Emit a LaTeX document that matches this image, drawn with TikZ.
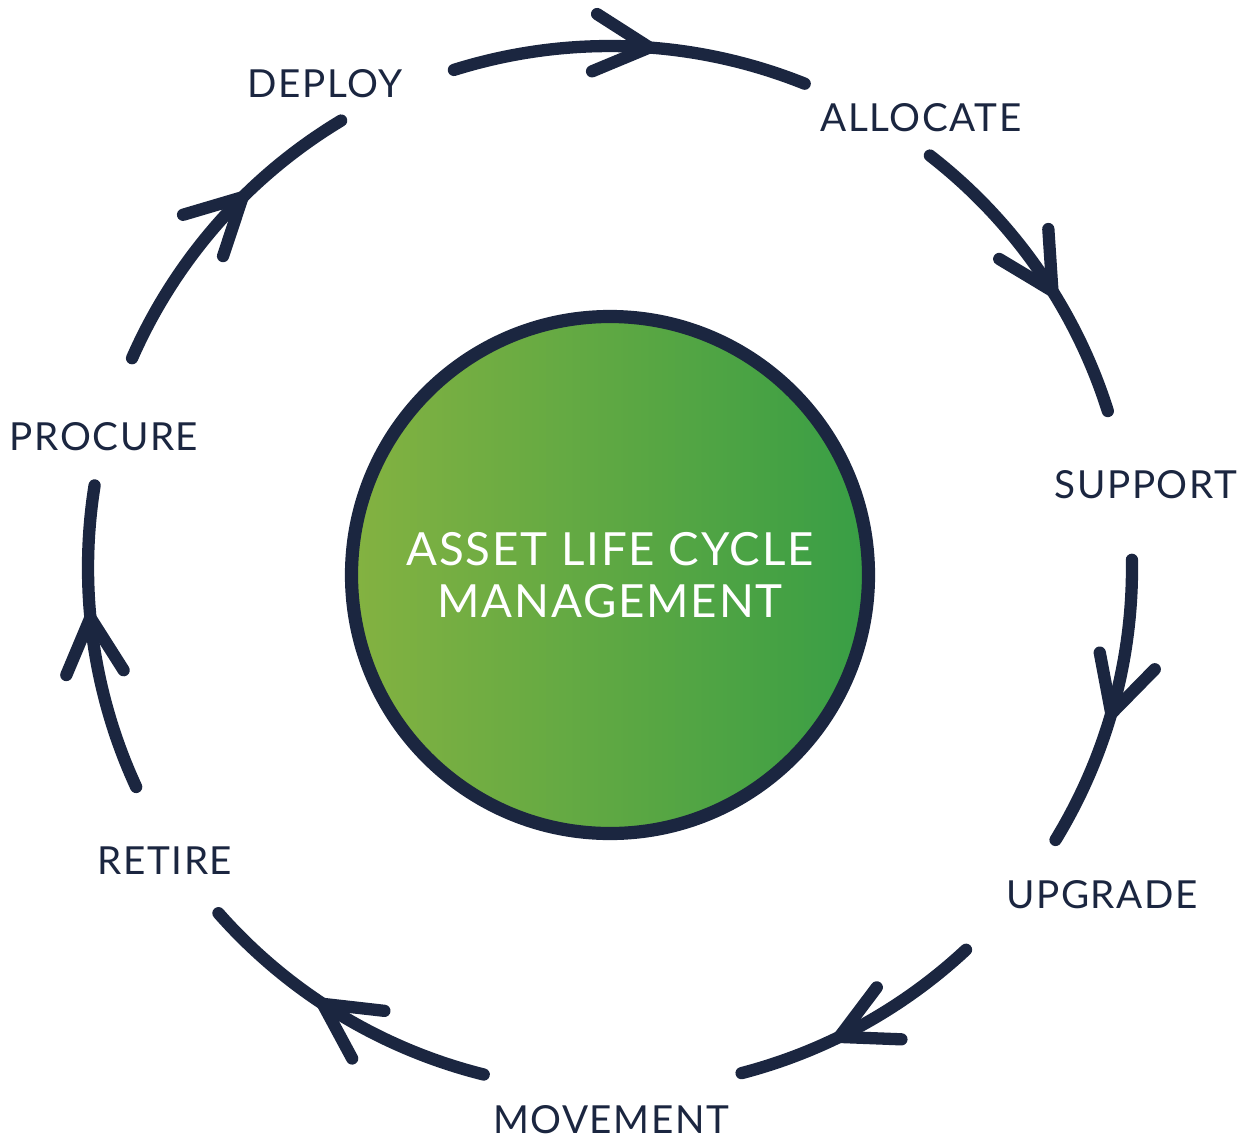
\documentclass[tikz,border=0pt]{standalone}
\usepackage{fontspec}
\setmainfont{Lato}[LetterSpace=4]
\usetikzlibrary{arrows.meta,decorations.markings}
\definecolor{navy}{HTML}{1B2640}
\definecolor{leafgreen}{HTML}{84B241}
\definecolor{deepgreen}{HTML}{389E45}
\tikzset{
  steplabel/.style={text=navy,font=\fontsize{22}{26}\selectfont,anchor=center,inner sep=0pt},
  cyclearc/.style={draw=navy,line width=7pt,line cap=round,
    postaction={decorate},
    decoration={markings,
      mark=at position #1 with {\arrow{Straight Barb[length=1.1cm,width=1.15cm,round]}}}},
  hubcircle/.style={circle,draw=navy,line width=7.5pt,minimum size=10.34cm,
    left color=leafgreen,right color=deepgreen,text=white,align=center,
    font=\fontsize{26}{29.5}\selectfont}
}
\begin{document}
\begin{tikzpicture}
\useasboundingbox (0,0) rectangle (24.94,-22.92);
\def\R{10.44}
\coordinate (C) at (12.2,-11.36);
% centre
\node[hubcircle] (hub) at (12.2,-11.5) {ASSET LIFE CYCLE\\MANAGEMENT};
% stages
\node[steplabel] (deploy) at (6.5,-1.68) {DEPLOY};
\node[steplabel] (allocate) at (18.42,-2.36) {ALLOCATE};
\node[steplabel] (support) at (22.92,-9.7) {SUPPORT};
\node[steplabel] (upgrade) at (22.04,-17.9) {UPGRADE};
\node[steplabel] (movement) at (12.22,-22.4) {MOVEMENT};
\node[steplabel] (retire) at (3.3,-17.22) {RETIRE};
\node[steplabel] (procure) at (2.08,-8.74) {PROCURE};
% arcs between stages
\draw[cyclearc=0.57] ([shift={(107.4:\R)}]C) arc[start angle=107.4,end angle=68.1,radius=\R];
\draw[cyclearc=0.60] ([shift={(52.2:\R)}]C) arc[start angle=52.2,end angle=17.5,radius=\R];
\draw[cyclearc=0.55] ([shift={(0.9:\R)}]C) arc[start angle=0.9,end angle=-31.4,radius=\R];
\draw[cyclearc=0.62] ([shift={(-47:\R)}]C) arc[start angle=-47,end angle=-75.4,radius=\R];
\draw[cyclearc=0.58] ([shift={(-104:\R)}]C) arc[start angle=-104,end angle=-138.6,radius=\R];
\draw[cyclearc=0.59] ([shift={(204.8:\R)}]C) arc[start angle=204.8,end angle=170.9,radius=\R];
\draw[cyclearc=0.63] ([shift={(156.3:\R)}]C) arc[start angle=156.3,end angle=121,radius=\R];
\end{tikzpicture}
\end{document}
